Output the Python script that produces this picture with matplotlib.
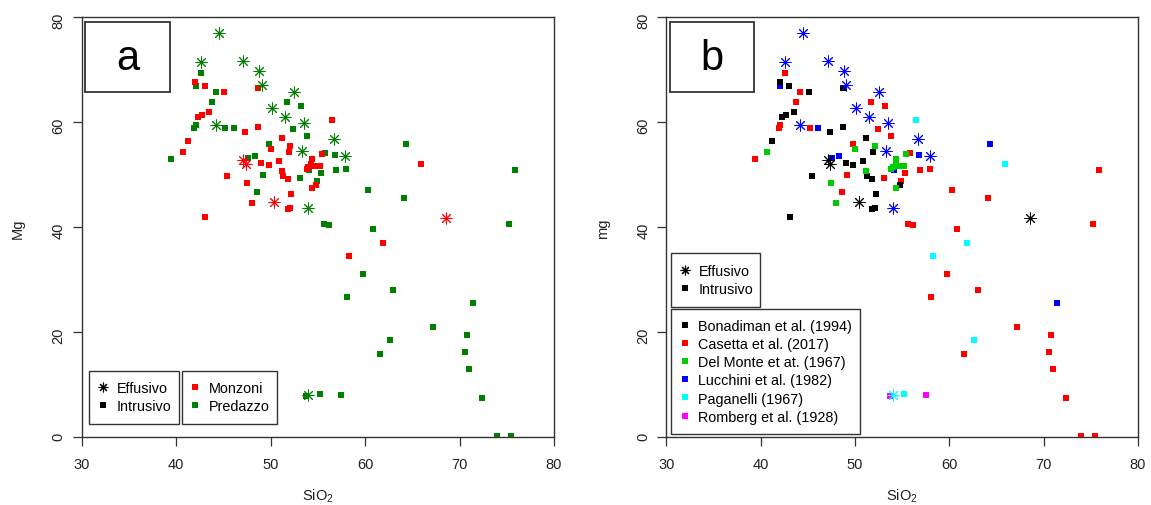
import matplotlib
matplotlib.use("Agg")
import matplotlib.pyplot as plt
from matplotlib.lines import Line2D
from matplotlib.legend import Legend
from matplotlib.patches import Rectangle

plt.rcParams["font.family"] = ["Liberation Sans", "DejaVu Sans"]
plt.rcParams["mathtext.default"] = "regular"

# Data: one entry per sample, the same samples in both panels
# area: M = Monzoni, P = Predazzo
# source: B Bonadiman, C Casetta, D Del Monte, L Lucchini, Pa Paganelli, R Romberg

# effusive rocks
sio2_eff = [44.5, 42.6, 47.1, 48.8, 49.1, 44.2, 50.1, 51.5, 52.5, 53.5,
            56.7, 53.3, 57.9, 54.0, 54.0, 47.1, 47.4, 50.4, 68.6]
mg_eff = [77.0, 71.5, 71.6, 69.7, 67.2, 59.4, 62.7, 61.0, 65.7, 59.8,
          56.9, 54.6, 53.6, 43.7, 8.1, 52.8, 52.0, 44.8, 41.8]
area_eff = ["P"] * 15 + ["M"] * 4
source_eff = ["L"] * 14 + ["Pa"] + ["B"] * 4

# intrusive rocks, Monzoni
sio2_mon = [42.0, 43.0, 45.1, 48.7, 43.5, 42.7, 42.3, 47.3, 48.7, 41.2,
            49.0, 49.8, 50.9, 51.2, 51.9, 51.3, 51.8, 45.4, 52.2, 51.8,
            52.1, 43.1, 54.8,
            40.7, 50.0, 52.1, 51.2, 47.5, 48.0, 55.4, 54.4, 53.8, 54.0,
            54.3, 54.6, 55.2, 54.4,
            56.5, 65.9, 61.9, 58.3]
mg_mon = [67.6, 67.0, 65.8, 66.5, 61.9, 61.4, 61.0, 58.2, 59.2, 56.4,
          52.3, 51.8, 52.6, 57.1, 54.4, 49.8, 49.2, 49.8, 46.4, 43.5,
          43.6, 42.0, 48.1,
          54.4, 54.9, 55.5, 50.8, 48.5, 44.6, 54.0, 53.1, 51.2, 51.4,
          52.1, 51.6, 51.7, 47.5,
          60.4, 52.1, 37.1, 34.5]
source_mon = ["B"] * 23 + ["D"] * 14 + ["Pa"] * 4

# intrusive rocks, Predazzo
sio2_pre = [42.6, 44.2, 43.8, 42.1, 41.9, 45.2, 39.4, 49.2, 48.6, 51.7,
            53.2, 52.4, 53.8, 49.8, 53.1, 55.8, 56.9, 58.0, 55.3, 54.9,
            60.3, 75.9, 64.1, 55.6, 56.2, 60.8, 75.2, 59.8, 63.0, 58.1,
            67.2, 70.8, 61.6, 70.6, 71.0, 72.4, 74.0, 75.4,
            42.1, 46.1, 47.6, 48.3, 56.8, 54.1, 64.3, 71.4,
            62.6, 55.2,
            53.7, 57.5]
mg_pre = [69.4, 65.8, 63.8, 59.5, 58.9, 58.9, 53.0, 50.0, 46.8, 63.8,
          63.1, 58.7, 57.4, 55.8, 49.3, 54.1, 50.9, 51.2, 50.3, 48.8,
          47.1, 50.9, 45.5, 40.7, 40.4, 39.6, 40.7, 31.1, 28.1, 26.7,
          21.0, 19.5, 15.8, 16.2, 13.1, 7.5, 0.2, 0.2,
          66.9, 59.0, 53.2, 53.6, 53.7, 51.0, 55.9, 25.6,
          18.5, 8.2,
          7.8, 8.0]
source_pre = ["C"] * 38 + ["L"] * 8 + ["Pa"] * 2 + ["R"] * 2

area_names = {"M": "Monzoni", "P": "Predazzo"}
area_colors = {"M": "#FF0000", "P": "#008000"}
source_names = {
    "B": "Bonadiman et al. (1994)",
    "C": "Casetta et al. (2017)",
    "D": "Del Monte et at. (1967)",
    "L": "Lucchini et al. (1982)",
    "Pa": "Paganelli (1967)",
    "R": "Romberg et al. (1928)",
}
source_colors = {"B": "#000000", "C": "#FF0000", "D": "#00CD00",
                 "L": "#0000FF", "Pa": "#00FFFF", "R": "#FF00FF"}

ASTER = (8, 2, 0)
EDGE = "#333333"
FS = 10.4
legends = []


def draw_points(ax, xs, ys, colors, kind):
    # one call per colour keeps the data order within each colour
    for c in dict.fromkeys(colors):
        px = [x for x, cc in zip(xs, colors) if cc == c]
        py = [y for y, cc in zip(ys, colors) if cc == c]
        if kind == "E":
            ax.plot(px, py, linestyle="none", marker=ASTER, markersize=8.5,
                    markeredgewidth=0.7, color=c)
        else:
            ax.plot(px, py, linestyle="none", marker="s", markersize=5,
                    markeredgewidth=0, color=c)


def style_axes(ax, ylabel, tag):
    ax.set_xlim(30, 80)
    ax.set_ylim(0, 80)
    ax.set_xticks(range(30, 81, 10))
    ax.set_yticks(range(0, 81, 20))
    ax.tick_params(direction="out", length=6.5, width=0.9, color=EDGE,
                   labelsize=10.5, labelcolor="#222222")
    ax.tick_params(axis="x", pad=8)
    ax.tick_params(axis="y", labelrotation=90, pad=5)
    for s in ax.spines.values():
        s.set_color(EDGE)
        s.set_linewidth(1.0)
    ax.set_xlabel("SiO$_2$", fontsize=10.5, color="#222222")
    ax.xaxis.set_label_coords(0.5, -0.118)
    ax.set_ylabel(ylabel, fontsize=10.5, color="#222222")
    ax.yaxis.set_label_coords(-0.12, 0.5)
    ax.add_patch(Rectangle((0.008, 0.823), 0.178, 0.166, transform=ax.transAxes,
                           fill=False, edgecolor=EDGE, linewidth=1.3, zorder=5))
    ax.text(0.097, 0.877, tag, transform=ax.transAxes, fontsize=30,
            ha="center", va="baseline", zorder=5)


def add_legend(ax, handles, labels, anchor):
    # frame is drawn afterwards, taller than matplotlib's own (R style box)
    leg = Legend(ax, handles, labels, loc="lower left", bbox_to_anchor=anchor,
                 frameon=False, borderpad=0.5, handlelength=0.9,
                 handletextpad=0.5, labelspacing=0.28, borderaxespad=0,
                 fontsize=FS)
    ax.add_artist(leg)
    legends.append(leg)


def sym(marker, color):
    if marker == "E":
        return Line2D([], [], linestyle="none", marker=ASTER, markersize=7,
                      markeredgewidth=0.8, color=color)
    return Line2D([], [], linestyle="none", marker="s", markersize=5,
                  markeredgewidth=0, color=color)


fig = plt.figure(figsize=(11.51, 5.06), dpi=100)
ax1 = fig.add_axes([0.0710, 0.1338, 0.4103, 0.8300])
ax2 = fig.add_axes([0.5789, 0.1338, 0.4098, 0.8300])

# panel a: coloured by locality
draw_points(ax1, sio2_pre, mg_pre, [area_colors["P"]] * len(sio2_pre), "I")
draw_points(ax1, sio2_mon, mg_mon, [area_colors["M"]] * len(sio2_mon), "I")
draw_points(ax1, sio2_eff, mg_eff, [area_colors[a] for a in area_eff], "E")
style_axes(ax1, "Mg", "a")
add_legend(ax1, [sym("E", "black"), sym("I", "black")],
           ["Effusivo", "Intrusivo"], (0.016, 0.040))
add_legend(ax1, [sym("I", area_colors[k]) for k in ["M", "P"]],
           [area_names[k] for k in ["M", "P"]], (0.2117, 0.040))

# panel b: coloured by literature source
draw_points(ax2, sio2_pre, mg_pre, [source_colors[s] for s in source_pre], "I")
draw_points(ax2, sio2_mon, mg_mon, [source_colors[s] for s in source_mon], "I")
draw_points(ax2, sio2_eff, mg_eff, [source_colors[s] for s in source_eff], "E")
style_axes(ax2, "mg", "b")
add_legend(ax2, [sym("E", "black"), sym("I", "black")],
           ["Effusivo", "Intrusivo"], (0.01, 0.319))
add_legend(ax2, [sym("I", source_colors[k]) for k in source_names],
           list(source_names.values()), (0.01, 0.0155))

# legend frames: same width as the legend, a few pixels taller
fig.canvas.draw()
dy = 3.5 / fig.bbox.height
for leg in legends:
    bb = leg.get_window_extent().transformed(fig.transFigure.inverted())
    fig.add_artist(Rectangle((bb.x0, bb.y0 - dy), bb.width, bb.height + 2 * dy,
                             transform=fig.transFigure, fill=False,
                             edgecolor=EDGE, linewidth=1.0))

fig.savefig("out.png", dpi=100)
